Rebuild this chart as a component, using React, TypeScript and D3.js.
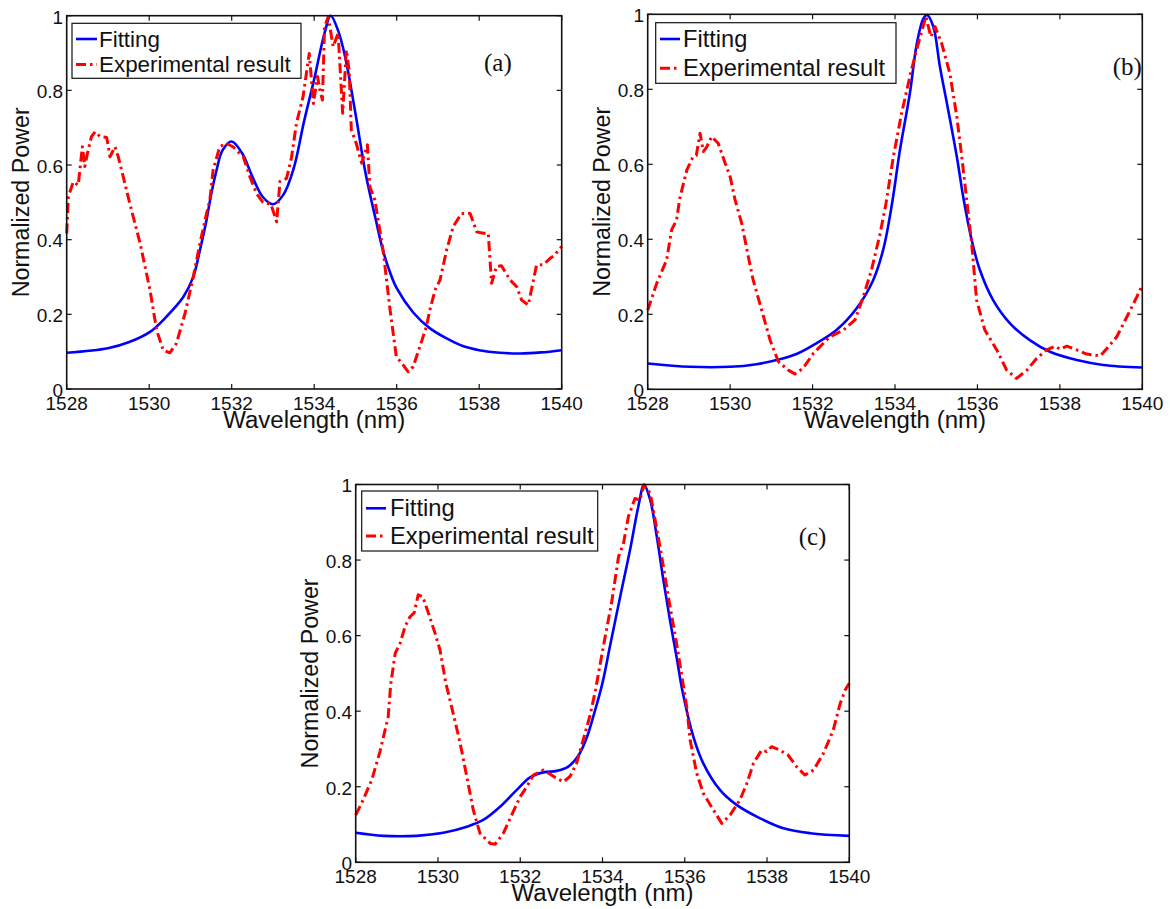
import React from "react";
import * as d3 from "d3";

type Pt = [number, number];

const xTicks = [1528, 1530, 1532, 1534, 1536, 1538, 1540];
const yTicks = [0, 0.2, 0.4, 0.6, 0.8, 1];
const yTickLabels = ["0", "0.2", "0.4", "0.6", "0.8", "1"];
const legendLabels = ["Fitting", "Experimental result"];
const panelTags = ["(a)", "(b)", "(c)"];

const fitA: Pt[] = [
  [1528, 0.097], [1529, 0.109], [1529.5, 0.125], [1530.02, 0.153], [1530.42, 0.194],
  [1530.83, 0.247], [1531.07, 0.301], [1531.23, 0.372], [1531.39, 0.453], [1531.5, 0.52],
  [1531.62, 0.58], [1531.78, 0.64], [1532, 0.663], [1532.25, 0.632], [1532.5, 0.569],
  [1532.75, 0.515], [1533, 0.495], [1533.25, 0.52], [1533.5, 0.59], [1533.75, 0.715],
  [1534, 0.83], [1534.25, 0.953], [1534.4, 1.0], [1534.58, 0.96], [1534.75, 0.89],
  [1535, 0.738], [1535.25, 0.575], [1535.5, 0.45], [1535.67, 0.37],
  [1535.83, 0.315], [1536, 0.27], [1536.4, 0.205], [1536.8, 0.163], [1537.2, 0.136],
  [1537.6, 0.115], [1538, 0.104], [1538.5, 0.097], [1539, 0.095], [1539.5, 0.098], [1540, 0.104],
];

const expA: Pt[] = [
  [1528.0, 0.417], [1528.04, 0.515], [1528.16, 0.555], [1528.28, 0.546], [1528.38, 0.649],
  [1528.44, 0.596], [1528.5, 0.63], [1528.6, 0.676], [1528.69, 0.689], [1528.81, 0.676],
  [1528.97, 0.674], [1529.05, 0.622], [1529.17, 0.649], [1529.25, 0.622], [1529.37, 0.569],
  [1529.5, 0.51], [1529.78, 0.39], [1530.02, 0.265], [1530.18, 0.158], [1530.34, 0.104],
  [1530.5, 0.097], [1530.66, 0.122], [1530.87, 0.203], [1531.07, 0.301], [1531.23, 0.39],
  [1531.39, 0.47], [1531.47, 0.506], [1531.55, 0.587], [1531.71, 0.649], [1531.87, 0.658],
  [1532.03, 0.649], [1532.28, 0.622], [1532.44, 0.569], [1532.6, 0.524], [1532.76, 0.5],
  [1532.95, 0.495], [1533.09, 0.448], [1533.17, 0.556], [1533.33, 0.564], [1533.45, 0.62],
  [1533.57, 0.712], [1533.73, 0.783], [1533.88, 0.899], [1533.98, 0.765], [1534.08, 0.837],
  [1534.14, 0.8], [1534.2, 0.774], [1534.25, 0.97], [1534.34, 0.997], [1534.46, 0.917],
  [1534.58, 0.953], [1534.69, 0.739], [1534.78, 0.908], [1534.85, 0.85], [1534.9, 0.694],
  [1535.02, 0.658], [1535.15, 0.605], [1535.29, 0.654], [1535.35, 0.542], [1535.47, 0.506],
  [1535.67, 0.372], [1535.83, 0.22], [1535.99, 0.087], [1536.16, 0.064], [1536.28, 0.046],
  [1536.4, 0.06], [1536.56, 0.113], [1536.72, 0.167], [1536.8, 0.21], [1536.93, 0.265],
  [1537.05, 0.292], [1537.21, 0.372], [1537.37, 0.435], [1537.57, 0.47], [1537.78, 0.47],
  [1537.94, 0.421], [1538.1, 0.417], [1538.22, 0.417], [1538.3, 0.283], [1538.42, 0.328],
  [1538.54, 0.33], [1538.75, 0.292], [1538.91, 0.274], [1539.03, 0.238], [1539.19, 0.225],
  [1539.39, 0.332], [1539.55, 0.333], [1539.72, 0.35], [1539.84, 0.359], [1539.92, 0.372],
  [1540.0, 0.381],
];

const fitB: Pt[] = [
  [1528, 0.069], [1529.03, 0.06], [1530, 0.06], [1530.64, 0.067], [1531.13, 0.078],
  [1531.61, 0.094], [1532.1, 0.123], [1532.58, 0.158], [1533.07, 0.216], [1533.47, 0.291],
  [1533.72, 0.375], [1533.92, 0.49], [1534.12, 0.638], [1534.36, 0.789], [1534.53, 0.922],
  [1534.69, 0.989], [1534.78, 0.998], [1534.93, 0.967], [1535.09, 0.86], [1535.29, 0.745],
  [1535.5, 0.62], [1535.66, 0.51], [1535.86, 0.398], [1536.06, 0.318], [1536.38, 0.238],
  [1536.79, 0.176], [1537.27, 0.131], [1537.76, 0.1], [1538.41, 0.078], [1539.05, 0.065],
  [1540, 0.058],
];

const expB: Pt[] = [
  [1528.0, 0.211], [1528.22, 0.283], [1528.46, 0.345], [1528.58, 0.425], [1528.7, 0.451],
  [1528.78, 0.51], [1528.95, 0.585], [1529.1, 0.62], [1529.18, 0.624], [1529.27, 0.683],
  [1529.35, 0.634], [1529.43, 0.646], [1529.55, 0.674], [1529.71, 0.656], [1529.88, 0.603],
  [1530.0, 0.567], [1530.12, 0.505], [1530.28, 0.443], [1530.44, 0.354], [1530.56, 0.291],
  [1530.72, 0.229], [1530.97, 0.131], [1531.17, 0.074], [1531.41, 0.051], [1531.57, 0.041],
  [1531.77, 0.056], [1532.02, 0.096], [1532.42, 0.14], [1532.75, 0.158], [1533.03, 0.185],
  [1533.23, 0.247], [1533.43, 0.318], [1533.64, 0.416], [1533.78, 0.495], [1533.96, 0.62],
  [1534.16, 0.736], [1534.36, 0.834], [1534.48, 0.887], [1534.61, 0.94], [1534.75, 0.994],
  [1534.87, 0.94], [1534.97, 0.967], [1535.13, 0.923], [1535.33, 0.843], [1535.5, 0.727],
  [1535.62, 0.62], [1535.74, 0.505], [1535.86, 0.389], [1535.98, 0.238], [1536.18, 0.158],
  [1536.47, 0.105], [1536.71, 0.051], [1536.95, 0.029], [1537.2, 0.051], [1537.44, 0.083],
  [1537.68, 0.105], [1537.88, 0.115], [1538.0, 0.107], [1538.17, 0.115], [1538.41, 0.105],
  [1538.65, 0.094], [1538.98, 0.089], [1539.14, 0.109], [1539.38, 0.14], [1539.63, 0.194],
  [1539.87, 0.247], [1540.0, 0.278],
];

const fitC: Pt[] = [
  [1528, 0.078], [1528.67, 0.07], [1529.48, 0.07], [1530.13, 0.078], [1530.7, 0.094],
  [1531.1, 0.112], [1531.51, 0.147], [1531.91, 0.191], [1532.24, 0.225], [1532.56, 0.238],
  [1532.89, 0.242], [1533.15, 0.252], [1533.4, 0.28], [1533.6, 0.325], [1533.8, 0.395],
  [1534.0, 0.475], [1534.18, 0.571], [1534.43, 0.703], [1534.67, 0.827],
  [1534.87, 0.941], [1535.01, 0.999], [1535.16, 0.959], [1535.32, 0.862], [1535.48, 0.747],
  [1535.64, 0.641], [1535.8, 0.544], [1535.95, 0.45], [1536.21, 0.332], [1536.45, 0.262],
  [1536.86, 0.191], [1537.26, 0.152], [1537.75, 0.121], [1538.4, 0.09], [1539.05, 0.077],
  [1540, 0.07],
];

const expC: Pt[] = [
  [1528.0, 0.125], [1528.18, 0.165], [1528.39, 0.218], [1528.59, 0.293], [1528.79, 0.385],
  [1528.85, 0.47], [1528.96, 0.553], [1529.08, 0.58], [1529.2, 0.624], [1529.32, 0.65],
  [1529.42, 0.66], [1529.52, 0.708], [1529.63, 0.703], [1529.77, 0.659], [1529.93, 0.606],
  [1530.05, 0.562], [1530.19, 0.475], [1530.37, 0.394], [1530.54, 0.315], [1530.7, 0.227],
  [1530.86, 0.138], [1531.02, 0.077], [1531.27, 0.05], [1531.39, 0.048], [1531.59, 0.077],
  [1531.83, 0.134], [1532.0, 0.174], [1532.16, 0.2], [1532.32, 0.231], [1532.56, 0.244],
  [1532.72, 0.234], [1532.89, 0.222], [1533.05, 0.213], [1533.21, 0.227], [1533.37, 0.262],
  [1533.53, 0.324], [1533.7, 0.39], [1533.83, 0.456], [1534.02, 0.571], [1534.22, 0.686],
  [1534.39, 0.809], [1534.51, 0.844], [1534.63, 0.915], [1534.79, 0.963], [1534.91, 0.959],
  [1535.01, 0.999], [1535.16, 0.977], [1535.28, 0.906], [1535.44, 0.809], [1535.6, 0.703],
  [1535.8, 0.58], [1535.97, 0.465], [1536.05, 0.41], [1536.13, 0.324], [1536.29, 0.236],
  [1536.45, 0.183], [1536.7, 0.138], [1536.9, 0.103], [1537.1, 0.125], [1537.34, 0.165],
  [1537.51, 0.209], [1537.67, 0.262], [1537.87, 0.297], [1537.99, 0.293], [1538.11, 0.306],
  [1538.31, 0.297], [1538.51, 0.284], [1538.72, 0.253], [1538.92, 0.231], [1539.13, 0.244],
  [1539.37, 0.288], [1539.61, 0.35], [1539.78, 0.421], [1539.9, 0.456], [1540.0, 0.474],
];

type PanelSpec = {
  left: number; right: number; top: number; bottom: number;
  fit: Pt[]; exp: Pt[]; tag: string;
  legend: { x0: number; x1: number; y0: number; y1: number; lx0: number; lx1: number; tx: number; r1: number; r2: number; fs: number };
  tagX: number; tagBase: number;
};

const panels: PanelSpec[] = [
  {
    left: 66.7, right: 561.7, top: 15.7, bottom: 389, fit: fitA, exp: expA, tag: panelTags[0],
    legend: { x0: 72, x1: 301, y0: 23.3, y1: 78.3, lx0: 76, lx1: 97, tx: 99, r1: 39, r2: 64.5, fs: 22.4 },
    tagX: 484, tagBase: 71,
  },
  {
    left: 647.7, right: 1142.3, top: 14.3, bottom: 389.3, fit: fitB, exp: expB, tag: panelTags[1],
    legend: { x0: 655.7, x1: 896, y0: 22.7, y1: 83.3, lx0: 660, lx1: 680, tx: 683, r1: 39, r2: 68.3, fs: 23.6 },
    tagX: 1112.7, tagBase: 75,
  },
  {
    left: 355.7, right: 849.3, top: 484.5, bottom: 862.3, fit: fitC, exp: expC, tag: panelTags[2],
    legend: { x0: 361.7, x1: 597.7, y0: 491, y1: 551, lx0: 366, lx1: 386, tx: 390, r1: 508.3, r2: 536, fs: 23.8 },
    tagX: 798.7, tagBase: 545,
  },
];

const SANS = "Arial, 'Liberation Sans', Helvetica, sans-serif";
const SERIF = "'Times New Roman', 'Liberation Serif', Times, serif";
const DASH = "10,4,2.5,4";

function Panel({ p }: { p: PanelSpec }) {
  const x = d3.scaleLinear().domain([1528, 1540]).range([p.left, p.right]);
  const y = d3.scaleLinear().domain([0, 1]).range([p.bottom, p.top]);
  const fitLine = d3.line<Pt>().x((d) => x(d[0])).y((d) => y(d[1])).curve(d3.curveCatmullRom.alpha(0.5));
  const expLine = d3.line<Pt>().x((d) => x(d[0])).y((d) => y(d[1])).curve(d3.curveLinear);
  const midX = (p.left + p.right) / 2;
  const midY = (p.top + p.bottom) / 2;
  const lg = p.legend;
  const tickLen = 5;
  return (
    <g>
      <defs>
        <clipPath id={`clip-${p.tag}`}>
          <rect x={p.left} y={p.top - 2} width={p.right - p.left} height={p.bottom - p.top + 4} />
        </clipPath>
      </defs>
      <g clipPath={`url(#clip-${p.tag})`}>
        <path d={fitLine(p.fit) || ""} fill="none" stroke="#0000ff" strokeWidth={2.6} strokeLinejoin="round" />
        <path d={expLine(p.exp) || ""} fill="none" stroke="#ff0000" strokeWidth={3} strokeDasharray={DASH} strokeLinejoin="round" />
      </g>
      <rect x={p.left} y={p.top} width={p.right - p.left} height={p.bottom - p.top} fill="none" stroke="#111" strokeWidth={1.6} />
      {xTicks.map((t) => (
        <g key={`xt${t}`}>
          <line x1={x(t)} x2={x(t)} y1={p.bottom} y2={p.bottom - tickLen} stroke="#111" strokeWidth={1.2} />
          <line x1={x(t)} x2={x(t)} y1={p.top} y2={p.top + tickLen} stroke="#111" strokeWidth={1.2} />
          <text x={x(t)} y={p.bottom + 20.5} textAnchor="middle" fontFamily={SANS} fontSize={19} fill="#111">{t}</text>
        </g>
      ))}
      {yTicks.map((t, i) => (
        <g key={`yt${t}`}>
          <line x1={p.left} x2={p.left + tickLen} y1={y(t)} y2={y(t)} stroke="#111" strokeWidth={1.2} />
          <line x1={p.right} x2={p.right - tickLen} y1={y(t)} y2={y(t)} stroke="#111" strokeWidth={1.2} />
          <text x={p.left - 3.5} y={y(t) + 7.8} textAnchor="end" fontFamily={SANS} fontSize={19} fill="#111">{yTickLabels[i]}</text>
        </g>
      ))}
      <text x={midX} y={p.bottom + 39} textAnchor="middle" fontFamily={SANS} fontSize={23} textLength={182} lengthAdjust="spacingAndGlyphs" fill="#111">Wavelength (nm)</text>
      <text transform={`translate(${p.left - 38},${midY}) rotate(-90)`} textAnchor="middle" fontFamily={SANS} fontSize={23} textLength={190} lengthAdjust="spacingAndGlyphs" fill="#111">Normalized Power</text>
      <rect x={lg.x0} y={lg.y0} width={lg.x1 - lg.x0} height={lg.y1 - lg.y0} fill="#fff" stroke="#111" strokeWidth={1.2} />
      <line x1={lg.lx0} x2={lg.lx1} y1={lg.r1} y2={lg.r1} stroke="#0000ff" strokeWidth={2.6} />
      <line x1={lg.lx0} x2={lg.lx1} y1={lg.r2} y2={lg.r2} stroke="#ff0000" strokeWidth={3} strokeDasharray={DASH} />
      <text x={lg.tx} y={lg.r1 + 7.8} fontFamily={SANS} fontSize={lg.fs} fill="#111">{legendLabels[0]}</text>
      <text x={lg.tx} y={lg.r2 + 7.8} fontFamily={SANS} fontSize={lg.fs} fill="#111">{legendLabels[1]}</text>
      <text x={p.tagX} y={p.tagBase} fontFamily={SERIF} fontSize={25} fill="#111">{p.tag}</text>
    </g>
  );
}

export default function App() {
  return (
    <svg width={1170} height={909} style={{ position: "absolute", left: 0, top: 0, background: "#fff" }}>
      <rect x={0} y={0} width={1170} height={909} fill="#fff" />
      {panels.map((p) => (
        <Panel key={p.tag} p={p} />
      ))}
    </svg>
  );
}
